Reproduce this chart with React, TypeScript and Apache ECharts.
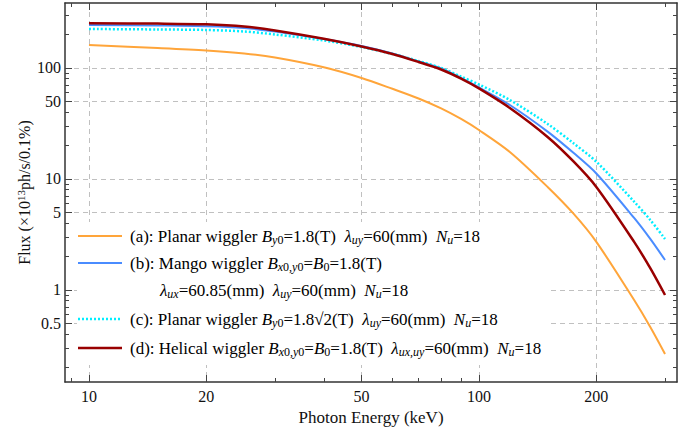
import React, { useEffect, useRef } from "react";
import * as echarts from "echarts";

// Photon energy (keV)
const energy = [10, 15, 20, 25, 30, 40, 50, 60, 70, 80, 90, 100, 120, 150, 175, 200, 250, 275, 300];
// Flux (x10^13 ph/s/0.1%)
const fluxPlanar = [161.0, 151.4, 143.8, 135.1, 124.3, 101.5, 81.3, 64.9, 53.1, 43.2, 34.7, 27.6, 17.5, 8.47, 4.84, 2.71, 0.81, 0.464, 0.265];
const fluxMango = [244, 241.5, 238.0, 229.3, 213.2, 182.5, 157.8, 135.1, 114.4, 99.0, 81.3, 66.7, 46.4, 26.7, 17.1, 11.2, 4.45, 2.88, 1.86];
const fluxPlanarSqrt2 = [224.5, 222.3, 220, 213.2, 200.3, 176.9, 154.6, 133.7, 115.6, 100, 83.7, 71.0, 51.5, 31.3, 20.9, 14.3, 6.24, 4.27, 2.88];
const fluxHelical = [252.7, 251.2, 247.6, 236.6, 217.7, 183.3, 156.2, 133.7, 113.3, 96.9, 80.1, 65.4, 43.6, 23.9, 14.3, 8.47, 2.71, 1.57, 0.9];

const xMajorTicks = [10, 20, 50, 100, 200];
const xMinorTicks = [9, 30, 40, 60, 70, 80, 90, 300];
const yMajorTicks = [0.5, 1, 5, 10, 50, 100];
const yMinorTicks = [0.2, 0.3, 0.4, 0.6, 0.7, 0.8, 0.9, 2, 3, 4, 6, 7, 8, 9, 20, 30, 40, 60, 70, 80, 90, 200, 300];

const X_MIN = 8.68;
const X_MAX = 322;
const Y_MIN = 0.148;
const Y_MAX = 385;

const FONT = "'Liberation Serif', 'Times New Roman', serif";
const TXT = "#111";

const rich = {
  r: { fontFamily: FONT, fontSize: 17, color: TXT },
  i: { fontFamily: FONT, fontSize: 17, color: TXT, fontStyle: "italic" },
  s: { fontFamily: FONT, fontSize: 12, color: TXT, fontStyle: "italic", padding: [8, 0, 0, 0] },
  s0: { fontFamily: FONT, fontSize: 12, color: TXT, padding: [8, 0, 0, 0] },
};

const legendRows = [
  { color: "#FFA53A", dash: "solid", width: 2, y: 236, x: 130,
    text: "{r|(a): Planar wiggler }{i|B}{s|y}{s0|0}{r|=1.8(T)  }{i|λ}{s|uy}{r|=60(mm)  }{i|N}{s|u}{r|=18}" },
  { color: "#4A8CFF", dash: "solid", width: 2, y: 263, x: 130,
    text: "{r|(b): Mango wiggler }{i|B}{s|x}{s0|0,}{s|y}{s0|0}{r|=}{i|B}{s0|0}{r|=1.8(T)}" },
  { color: null, dash: "solid", width: 2, y: 290, x: 160,
    text: "{i|λ}{s|ux}{r|=60.85(mm)  }{i|λ}{s|uy}{r|=60(mm)  }{i|N}{s|u}{r|=18}" },
  { color: "#00EEFF", dash: [2, 2], width: 2.5, y: 319, x: 130,
    text: "{r|(c): Planar wiggler }{i|B}{s|y}{s0|0}{r|=1.8√2(T)  }{i|λ}{s|uy}{r|=60(mm)  }{i|N}{s|u}{r|=18}" },
  { color: "#990000", dash: "solid", width: 2.5, y: 348, x: 130,
    text: "{r|(d): Helical wiggler }{i|B}{s|x}{s0|0,}{s|y}{s0|0}{r|=}{i|B}{s0|0}{r|=1.8(T)  }{i|λ}{s|ux,uy}{r|=60(mm)  }{i|N}{s|u}{r|=18}" },
];

const pairs = (ys: number[]) => energy.map((e, i) => [e, ys[i]]);

export default function App() {
  const ref = useRef<HTMLDivElement>(null);
  useEffect(() => {
    if (!ref.current) return;
    const chart = echarts.init(ref.current, null, { renderer: "svg" });

    const lineSt = { color: "#333", width: 1.5 };
    const tickSt = { color: "#444", width: 1 };
    const gridSt = { color: "#c0c0c0", width: 1, type: [5, 4] };

    const xBase = { type: "log", logBase: 10, min: X_MIN, max: X_MAX, gridIndex: 0 };
    const yBase = { type: "log", logBase: 10, min: Y_MIN, max: Y_MAX, gridIndex: 0 };

    const lineSeries = (name: string, ys: number[], color: string, type: any, width: number) => ({
      name,
      type: "line",
      data: pairs(ys),
      xAxisIndex: 0,
      yAxisIndex: 0,
      showSymbol: false,
      symbol: "none",
      smooth: 0.3,
      z: 5,
      lineStyle: { color, width, type },
    });

    const graphicEls: any[] = [
      {
        type: "rect",
        shape: { x: 77, y: 222, width: 470, height: 143 },
        style: { fill: "#fff" },
        z: 10,
      },
    ];
    legendRows.forEach((row) => {
      if (row.color) {
        graphicEls.push({
          type: "line",
          shape: { x1: 78, y1: row.y, x2: 122, y2: row.y },
          style: { stroke: row.color, lineWidth: row.width, lineDash: row.dash === "solid" ? null : row.dash },
          z: 11,
        });
      }
      graphicEls.push({
        type: "text",
        x: row.x,
        y: row.y,
        z: 11,
        style: { text: row.text, rich, verticalAlign: "middle", align: "left" },
      });
    });

    chart.setOption({
      animation: false,
      backgroundColor: "#fff",
      grid: { left: 65, right: 10, top: 3, bottom: 48, containLabel: false, outerBoundsMode: "none" },
      xAxis: [
        {
          ...xBase,
          position: "bottom",
          name: "Photon Energy (keV)",
          nameLocation: "middle",
          nameGap: 27,
          nameMoveOverlap: false,
          nameTextStyle: { fontFamily: FONT, fontSize: 17, color: TXT },
          axisLine: { show: true, lineStyle: lineSt },
          axisTick: { show: true, inside: true, length: 4, customValues: xMinorTicks, lineStyle: tickSt },
          axisLabel: {
            show: true,
            customValues: xMajorTicks,
            formatter: (v: number) => String(v),
            margin: 6,
            fontFamily: FONT,
            fontSize: 16,
            color: TXT,
          },
          splitLine: { show: false },
        },
        {
          ...xBase,
          position: "top",
          axisLine: { show: true, lineStyle: lineSt },
          axisTick: { show: true, inside: true, length: 4, customValues: xMinorTicks, lineStyle: tickSt },
          axisLabel: { show: false },
          splitLine: { show: false },
        },
        {
          ...xBase,
          position: "bottom",
          axisLine: { show: false },
          axisTick: { show: true, inside: true, length: 7, customValues: xMajorTicks, lineStyle: tickSt },
          axisLabel: { show: false },
          splitLine: { show: true, lineStyle: gridSt },
        },
        {
          ...xBase,
          position: "top",
          axisLine: { show: false },
          axisTick: { show: true, inside: true, length: 7, customValues: xMajorTicks, lineStyle: tickSt },
          axisLabel: { show: false },
          splitLine: { show: false },
        },
      ],
      yAxis: [
        {
          ...yBase,
          position: "left",
          name: "{r|Flux (×10}{sup|13}{r|ph/s/0.1%)}",
          nameLocation: "middle",
          nameGap: 31,
          nameMoveOverlap: false,
          nameRotate: 90,
          nameTextStyle: {
            rich: {
              r: { fontFamily: FONT, fontSize: 16, color: TXT },
              sup: { fontFamily: FONT, fontSize: 11, color: TXT, padding: [0, 0, 8, 0] },
            },
          },
          axisLine: { show: true, lineStyle: lineSt },
          axisTick: { show: true, inside: true, length: 4, customValues: yMinorTicks, lineStyle: tickSt },
          axisLabel: {
            show: true,
            customValues: yMajorTicks,
            formatter: (v: number) => String(v),
            margin: 4,
            fontFamily: FONT,
            fontSize: 16,
            color: TXT,
          },
          splitLine: { show: false },
        },
        {
          ...yBase,
          position: "right",
          axisLine: { show: true, lineStyle: lineSt },
          axisTick: { show: true, inside: true, length: 4, customValues: yMinorTicks, lineStyle: tickSt },
          axisLabel: { show: false },
          splitLine: { show: false },
        },
        {
          ...yBase,
          position: "left",
          axisLine: { show: false },
          axisTick: { show: true, inside: true, length: 7, customValues: yMajorTicks, lineStyle: tickSt },
          axisLabel: { show: false },
          splitLine: { show: true, lineStyle: gridSt },
        },
        {
          ...yBase,
          position: "right",
          axisLine: { show: false },
          axisTick: { show: true, inside: true, length: 7, customValues: yMajorTicks, lineStyle: tickSt },
          axisLabel: { show: false },
          splitLine: { show: false },
        },
      ],
      series: [
        lineSeries("(a) Planar wiggler", fluxPlanar, "#FFA53A", "solid", 2),
        lineSeries("(b) Mango wiggler", fluxMango, "#4A8CFF", "solid", 2),
        lineSeries("(c) Planar wiggler sqrt2", fluxPlanarSqrt2, "#00EEFF", [2, 2], 2.5),
        lineSeries("(d) Helical wiggler", fluxHelical, "#990000", "solid", 2.5),
      ],
      graphic: { elements: graphicEls },
    } as any);

    return () => chart.dispose();
  }, []);

  return (
    <div
      ref={ref}
      style={{ position: "absolute", left: 0, top: 0, width: 687, height: 430, background: "#fff" }}
    />
  );
}
